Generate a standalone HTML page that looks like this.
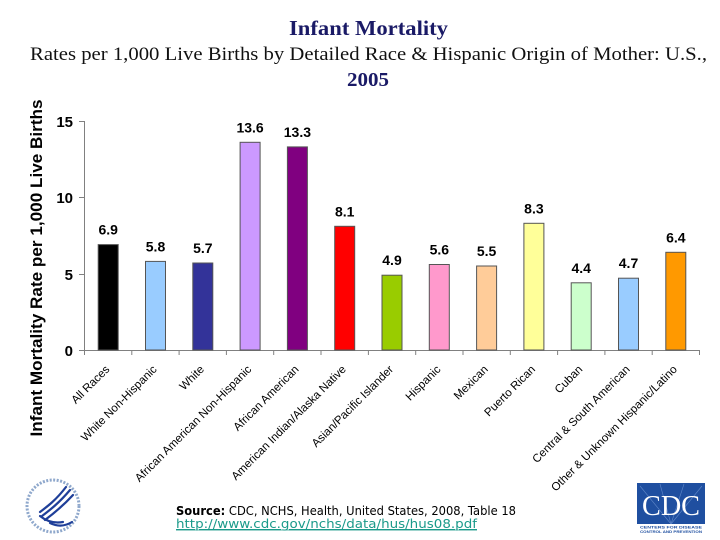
<!DOCTYPE html>
<html><head><meta charset="utf-8"><style>
html,body{margin:0;padding:0;background:#fff;}
svg{display:block;}
</style></head><body>
<svg width="720" height="540" viewBox="0 0 720 540" xmlns="http://www.w3.org/2000/svg">
<rect width="720" height="540" fill="#fff"/>
<!-- Titles -->
<text x="368.5" y="35" text-anchor="middle" font-family="Liberation Serif, serif" font-size="21" font-weight="bold" fill="#1a1a66" textLength="159" lengthAdjust="spacingAndGlyphs">Infant Mortality</text>
<text x="368.5" y="60" text-anchor="middle" font-family="Liberation Serif, serif" font-size="19" fill="#111" textLength="677" lengthAdjust="spacingAndGlyphs">Rates per 1,000 Live Births by Detailed Race &amp; Hispanic Origin of Mother: U.S.,</text>
<text x="368" y="86" text-anchor="middle" font-family="Liberation Serif, serif" font-size="20" font-weight="bold" fill="#1a1a66" textLength="42" lengthAdjust="spacingAndGlyphs">2005</text>

<!-- Y axis title -->
<text transform="translate(42,268) rotate(-90)" text-anchor="middle" font-family="Liberation Sans, Arial, sans-serif" font-size="17" font-weight="bold" fill="#000" textLength="337" lengthAdjust="spacingAndGlyphs">Infant Mortality Rate per 1,000 Live Births</text>

<!-- axes -->
<g stroke="#808080" stroke-width="1" fill="none">
<line x1="84.5" y1="121" x2="84.5" y2="350.5"/>
<line x1="84" y1="350.5" x2="700" y2="350.5"/>
<line x1="79" y1="121.5" x2="84.5" y2="121.5"/>
<line x1="79" y1="197.5" x2="84.5" y2="197.5"/>
<line x1="79" y1="274.5" x2="84.5" y2="274.5"/>
<line x1="79" y1="350.5" x2="84.5" y2="350.5"/>
<line x1="84.5" y1="350" x2="84.5" y2="355"/>
<line x1="131.8" y1="350" x2="131.8" y2="355"/>
<line x1="179.1" y1="350" x2="179.1" y2="355"/>
<line x1="226.4" y1="350" x2="226.4" y2="355"/>
<line x1="273.7" y1="350" x2="273.7" y2="355"/>
<line x1="321.0" y1="350" x2="321.0" y2="355"/>
<line x1="368.4" y1="350" x2="368.4" y2="355"/>
<line x1="415.7" y1="350" x2="415.7" y2="355"/>
<line x1="463.0" y1="350" x2="463.0" y2="355"/>
<line x1="510.3" y1="350" x2="510.3" y2="355"/>
<line x1="557.6" y1="350" x2="557.6" y2="355"/>
<line x1="604.9" y1="350" x2="604.9" y2="355"/>
<line x1="652.2" y1="350" x2="652.2" y2="355"/>
<line x1="699.5" y1="350" x2="699.5" y2="355"/>
</g>
<g font-family="Liberation Sans, Arial, sans-serif" font-size="15" font-weight="bold" fill="#000" text-anchor="end">
<text x="73" y="127">15</text>
<text x="73" y="203">10</text>
<text x="73" y="280">5</text>
<text x="73" y="356">0</text>
</g>

<!-- bars -->
<g stroke="#555" stroke-width="1">
<rect x="98.2" y="244.6" width="20" height="105.4" fill="#000000"/>
<rect x="145.5" y="261.4" width="20" height="88.6" fill="#99ccff"/>
<rect x="192.8" y="263.0" width="20" height="87.0" fill="#333399"/>
<rect x="240.1" y="142.3" width="20" height="207.7" fill="#cc99ff"/>
<rect x="287.4" y="146.9" width="20" height="203.1" fill="#800080"/>
<rect x="334.7" y="226.3" width="20" height="123.7" fill="#ff0000"/>
<rect x="382.0" y="275.2" width="20" height="74.8" fill="#99cc00"/>
<rect x="429.3" y="264.5" width="20" height="85.5" fill="#ff99cc"/>
<rect x="476.6" y="266.0" width="20" height="84.0" fill="#ffcc99"/>
<rect x="523.9" y="223.3" width="20" height="126.7" fill="#ffff99"/>
<rect x="571.2" y="282.8" width="20" height="67.2" fill="#ccffcc"/>
<rect x="618.5" y="278.2" width="20" height="71.8" fill="#99ccff"/>
<rect x="665.8" y="252.3" width="20" height="97.7" fill="#ff9900"/>
</g>

<!-- value labels -->
<g font-family="Liberation Sans, Arial, sans-serif" font-size="14" font-weight="bold" fill="#000" text-anchor="middle">
<text x="108.2" y="234.6">6.9</text>
<text x="155.5" y="251.4">5.8</text>
<text x="202.8" y="253.0">5.7</text>
<text x="250.1" y="132.3">13.6</text>
<text x="297.4" y="136.9">13.3</text>
<text x="344.7" y="216.3">8.1</text>
<text x="392.0" y="265.2">4.9</text>
<text x="439.3" y="254.5">5.6</text>
<text x="486.6" y="256.0">5.5</text>
<text x="533.9" y="213.3">8.3</text>
<text x="581.2" y="272.8">4.4</text>
<text x="628.5" y="268.2">4.7</text>
<text x="675.8" y="242.3">6.4</text>
</g>

<!-- category labels -->
<g font-family="Liberation Sans, Arial, sans-serif" font-size="11.5" fill="#000" text-anchor="end">
<text transform="translate(110.2,370) rotate(-45)">All Races</text>
<text transform="translate(157.5,370) rotate(-45)">White Non-Hispanic</text>
<text transform="translate(204.8,370) rotate(-45)">White</text>
<text transform="translate(252.1,370) rotate(-45)">African American Non-Hispanic</text>
<text transform="translate(299.4,370) rotate(-45)">African American</text>
<text transform="translate(346.7,370) rotate(-45)">American Indian/Alaska Native</text>
<text transform="translate(394.0,370) rotate(-45)">Asian/Pacific Islander</text>
<text transform="translate(441.3,370) rotate(-45)">Hispanic</text>
<text transform="translate(488.6,370) rotate(-45)">Mexican</text>
<text transform="translate(535.9,370) rotate(-45)">Puerto Rican</text>
<text transform="translate(583.2,370) rotate(-45)">Cuban</text>
<text transform="translate(630.5,370) rotate(-45)">Central &amp; South American</text>
<text transform="translate(677.8,370) rotate(-45)">Other &amp; Unknown Hispanic/Latino</text>
</g>

<!-- source -->
<text x="176" y="515" font-family="DejaVu Sans, Liberation Sans, sans-serif" font-size="12" fill="#000" textLength="340" lengthAdjust="spacingAndGlyphs"><tspan font-weight="bold">Source:</tspan> CDC, NCHS, Health, United States, 2008, Table 18</text>
<text x="176" y="528" font-family="DejaVu Sans, Liberation Sans, sans-serif" font-size="12" fill="#1a9a8a" text-decoration="underline" textLength="301" lengthAdjust="spacingAndGlyphs">http://www.cdc.gov/nchs/data/hus/hus08.pdf</text>
<line x1="176" y1="530" x2="477" y2="530" stroke="#1a9a8a" stroke-width="0.8"/>

<!-- HHS logo -->
<g>
<circle cx="53" cy="506" r="26" fill="none" stroke="#8fa8cc" stroke-width="3" stroke-dasharray="2 1.5"/>
<g fill="none" stroke="#1f3f99" stroke-width="2.2" stroke-linecap="round">
<path d="M40 512 C48 506 56 500 66 487"/>
<path d="M42 516 C50 510 59 503 70 490"/>
<path d="M45 520 C53 514 62 507 73 495"/>
<path d="M40 516 C45 520 52 524 63 522"/>
<path d="M50 523 C56 526 64 527 72 522"/>
</g>
</g>

<!-- CDC logo -->
<g>
<rect x="637" y="483" width="68" height="41" fill="#1f4fa0"/>
<g stroke="#5f87c8" stroke-width="0.6">
<line x1="671" y1="524" x2="640" y2="486"/>
<line x1="671" y1="524" x2="702" y2="486"/>
<line x1="671" y1="524" x2="660" y2="484"/>
<line x1="671" y1="524" x2="684" y2="484"/>
</g>
<text x="671" y="515" text-anchor="middle" font-family="Liberation Serif, serif" font-size="28" fill="#fff" textLength="58" lengthAdjust="spacingAndGlyphs">CDC</text>
<rect x="637" y="524" width="68" height="10" fill="#fff"/>
<text x="671" y="528.5" text-anchor="middle" font-family="Liberation Sans, sans-serif" font-size="4" font-weight="bold" fill="#1f4fa0" textLength="62" lengthAdjust="spacingAndGlyphs">CENTERS FOR DISEASE</text>
<text x="671" y="533" text-anchor="middle" font-family="Liberation Sans, sans-serif" font-size="4" font-weight="bold" fill="#1f4fa0" textLength="62" lengthAdjust="spacingAndGlyphs">CONTROL AND PREVENTION</text>
</g>
</svg>
</body></html>
